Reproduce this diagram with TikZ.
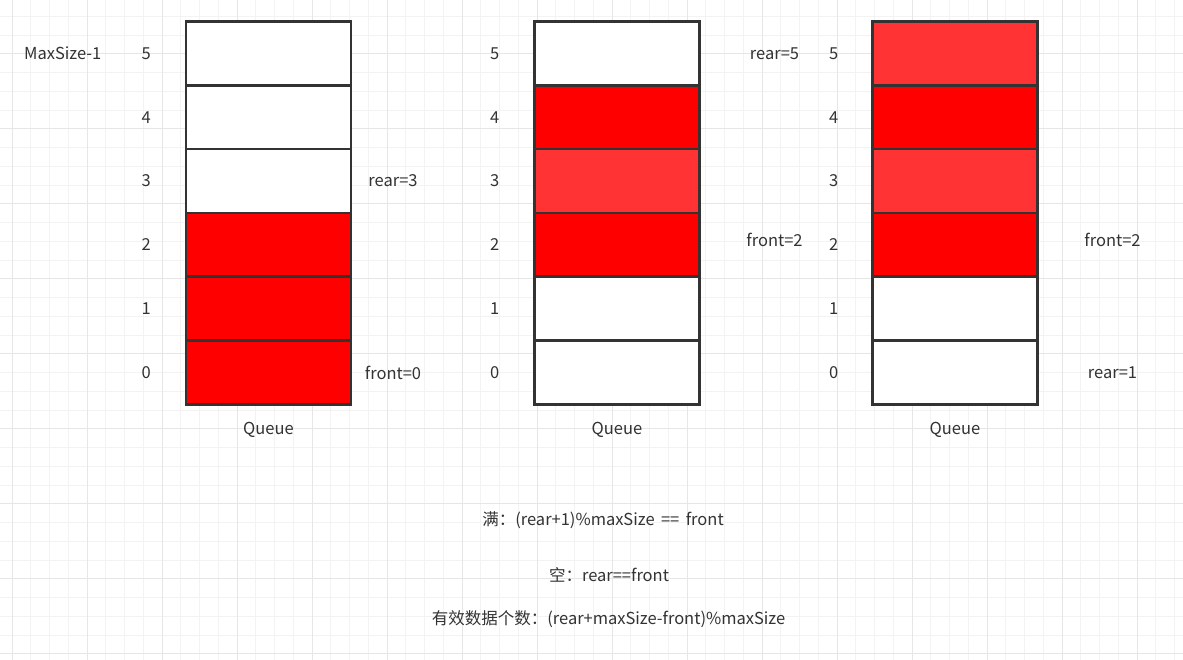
\documentclass[tikz,border=0pt]{standalone}
\usepackage{fontspec}
\setmainfont{Noto Sans CJK SC}
\usepackage{xcolor}
\usepackage{tikz}
\usetikzlibrary{positioning, calc}
\definecolor{linegray}{RGB}{51,51,51}
\definecolor{textgray}{RGB}{51,51,51}
\definecolor{fullred}{RGB}{255,0,0}
\definecolor{lightred}{RGB}{255,51,51}
\definecolor{gridminor}{RGB}{243,243,243}
\definecolor{gridmajor}{RGB}{230,230,230}

\begin{document}
\begin{tikzpicture}[
        x=1pt, y=1pt,
        node distance=0pt,
        % Styles
        cell/.style={rectangle, draw=linegray, line width=2.6pt, outer sep=0pt, inner sep=0pt,
                    minimum width=165pt, minimum height=63.8pt},
        emptycell/.style={cell, fill=white},
        usedcell/.style={cell, fill=fullred},
        lightcell/.style={cell, fill=lightred},
        lbl/.style={inner sep=0pt, text=textgray, font=\fontsize{16.5}{19}\selectfont},
    ]

    % Background and grid
    \fill[white] (0,0) rectangle (1183,660);
    \useasboundingbox (0,0) rectangle (1183,660);
    \begin{scope}[shift={(12,606)}]
        \draw[gridminor, line width=1pt, step=18.75pt] (-12,-606) grid (1171,54);
        \draw[gridmajor, line width=1pt, step=75pt] (-12,-606) grid (1171,54);
    \end{scope}

    % Queue 1
    \node[usedcell] (a0) at (268.5,287.5) {};
    \node[usedcell, above=of a0] (a1) {};
    \node[usedcell, above=of a1] (a2) {};
    \node[emptycell, above=of a2] (a3) {};
    \node[emptycell, above=of a3] (a4) {};
    \node[emptycell, above=of a4] (a5) {};

    % Queue 2
    \node[emptycell] (b0) at (617,287.5) {};
    \node[emptycell, above=of b0] (b1) {};
    \node[usedcell, above=of b1] (b2) {};
    \node[lightcell, above=of b2] (b3) {};
    \node[usedcell, above=of b3] (b4) {};
    \node[emptycell, above=of b4] (b5) {};

    % Queue 3
    \node[emptycell] (c0) at (955,287.5) {};
    \node[emptycell, above=of c0] (c1) {};
    \node[usedcell, above=of c1] (c2) {};
    \node[lightcell, above=of c2] (c3) {};
    \node[usedcell, above=of c3] (c4) {};
    \node[lightcell, above=of c4] (c5) {};

    % Indices
    \node[lbl, left=35pt of a0] (ia0) {0};
    \node[lbl, left=35pt of a1] (ia1) {1};
    \node[lbl, left=35pt of a2] (ia2) {2};
    \node[lbl, left=35pt of a3] (ia3) {3};
    \node[lbl, left=35pt of a4] (ia4) {4};
    \node[lbl, left=35pt of a5] (ia5) {5};
    \node[lbl, left=35pt of b0] (ib0) {0};
    \node[lbl, left=35pt of b1] (ib1) {1};
    \node[lbl, left=35pt of b2] (ib2) {2};
    \node[lbl, left=35pt of b3] (ib3) {3};
    \node[lbl, left=35pt of b4] (ib4) {4};
    \node[lbl, left=35pt of b5] (ib5) {5};
    \node[lbl, left=34pt of c0] (ic0) {0};
    \node[lbl, left=34pt of c1] (ic1) {1};
    \node[lbl, left=34pt of c2] (ic2) {2};
    \node[lbl, left=34pt of c3] (ic3) {3};
    \node[lbl, left=34pt of c4] (ic4) {4};
    \node[lbl, left=34pt of c5] (ic5) {5};

    \node[lbl, left=40pt of ia5] (maxsize) {MaxSize-1};

    % Pointers
    \node[lbl] (rearA) at ($(a3.east)+(42,0)$) {rear=3};
    \node[lbl] (frontA) at ($(a0.east)+(42,0)$) {front=0};
    \node[lbl] (rearB) at ($(b5.east)+(75,0)$) {rear=5};
    \node[lbl] (frontB) at ($(b2.east)+(75,5)$) {front=2};
    \node[lbl] (frontC) at ($(c2.east)+(75,5)$) {front=2};
    \node[lbl] (rearC) at ($(c0.east)+(75,0)$) {rear=1};

    % Captions
    \node[lbl] (qa) at ($(a0.south)+(0,-25)$) {Queue};
    \node[lbl] (qb) at ($(b0.south)+(0,-25)$) {Queue};
    \node[lbl] (qc) at ($(c0.south)+(0,-25)$) {Queue};

    % Formulas
    \node[lbl] (full) at (603,140) {满：(rear+1)\%maxSize \,==\, front};
    \node[lbl] (empty) at (609,85) {空：rear==front};
    \node[lbl] (count) at (608.5,41) {有效数据个数：(rear+maxSize-front)\%maxSize};

\end{tikzpicture}
\end{document}
